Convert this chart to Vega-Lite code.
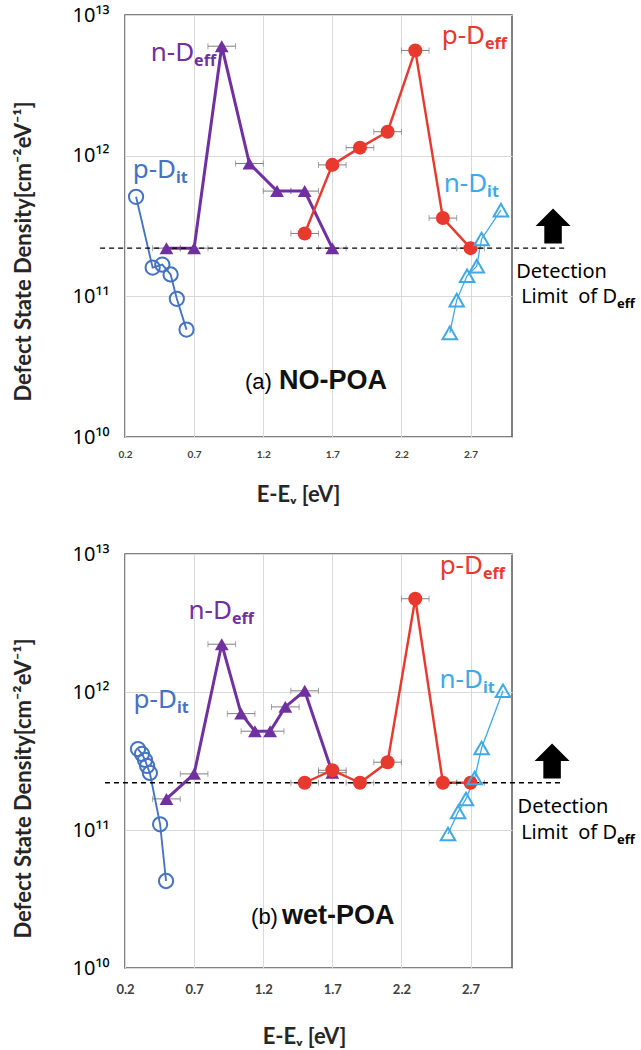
{
  "$schema": "https://vega.github.io/schema/vega-lite/v6.json",
  "background": "white",
  "padding": {"left": 11, "top": 4, "right": 0, "bottom": 0},
  "spacing": 37,
  "config": {
    "view": {"stroke": "#595959", "strokeWidth": 1.5},
    "axis": {"gridColor": "#d9d9d9", "gridWidth": 1}
  },
  "datasets": {
    "a": [
      {"series": "n-Deff", "kind": "eff", "E": 0.5, "D": 2.2e11, "lo": 0.4, "hi": 0.6},
      {"series": "n-Deff", "kind": "eff", "E": 0.7, "D": 2.2e11, "lo": 0.6, "hi": 0.8},
      {"series": "n-Deff", "kind": "eff", "E": 0.9, "D": 6.0e12, "lo": 0.8, "hi": 1.0},
      {"series": "n-Deff", "kind": "eff", "E": 1.1, "D": 8.8e11, "lo": 1.0, "hi": 1.2},
      {"series": "n-Deff", "kind": "eff", "E": 1.3, "D": 5.6e11, "lo": 1.2, "hi": 1.4},
      {"series": "n-Deff", "kind": "eff", "E": 1.5, "D": 5.6e11, "lo": 1.4, "hi": 1.6},
      {"series": "n-Deff", "kind": "eff", "E": 1.7, "D": 2.2e11, "lo": 1.6, "hi": 1.8},
      {"series": "p-Deff", "kind": "eff", "E": 1.5, "D": 2.8e11, "lo": 1.4, "hi": 1.6},
      {"series": "p-Deff", "kind": "eff", "E": 1.7, "D": 8.6e11, "lo": 1.6, "hi": 1.8},
      {"series": "p-Deff", "kind": "eff", "E": 1.9, "D": 1.14e12, "lo": 1.8, "hi": 2.0},
      {"series": "p-Deff", "kind": "eff", "E": 2.1, "D": 1.48e12, "lo": 2.0, "hi": 2.2},
      {"series": "p-Deff", "kind": "eff", "E": 2.3, "D": 5.6e12, "lo": 2.2, "hi": 2.4},
      {"series": "p-Deff", "kind": "eff", "E": 2.5, "D": 3.6e11, "lo": 2.4, "hi": 2.6},
      {"series": "p-Deff", "kind": "eff", "E": 2.7, "D": 2.2e11, "lo": 2.6, "hi": 2.8},
      {"series": "p-Dit", "kind": "it", "E": 0.28, "D": 5.1e11},
      {"series": "p-Dit", "kind": "it", "E": 0.40, "D": 1.6e11},
      {"series": "p-Dit", "kind": "it", "E": 0.47, "D": 1.68e11},
      {"series": "p-Dit", "kind": "it", "E": 0.53, "D": 1.43e11},
      {"series": "p-Dit", "kind": "it", "E": 0.575, "D": 9.6e10},
      {"series": "p-Dit", "kind": "it", "E": 0.645, "D": 5.8e10},
      {"series": "n-Dit", "kind": "it", "E": 2.55, "D": 5.5e10},
      {"series": "n-Dit", "kind": "it", "E": 2.60, "D": 9.4e10},
      {"series": "n-Dit", "kind": "it", "E": 2.675, "D": 1.4e11},
      {"series": "n-Dit", "kind": "it", "E": 2.745, "D": 1.64e11},
      {"series": "n-Dit", "kind": "it", "E": 2.78, "D": 2.56e11},
      {"series": "n-Dit", "kind": "it", "E": 2.92, "D": 4.1e11}
    ],
    "b": [
      {"series": "n-Deff", "kind": "eff", "E": 0.5, "D": 1.68e11, "lo": 0.4, "hi": 0.6},
      {"series": "n-Deff", "kind": "eff", "E": 0.7, "D": 2.55e11, "lo": 0.6, "hi": 0.8},
      {"series": "n-Deff", "kind": "eff", "E": 0.9, "D": 2.22e12, "lo": 0.8, "hi": 1.0},
      {"series": "n-Deff", "kind": "eff", "E": 1.04, "D": 6.97e11, "lo": 0.94, "hi": 1.14},
      {"series": "n-Deff", "kind": "eff", "E": 1.14, "D": 5.2e11, "lo": 1.04, "hi": 1.24},
      {"series": "n-Deff", "kind": "eff", "E": 1.25, "D": 5.2e11, "lo": 1.15, "hi": 1.35},
      {"series": "n-Deff", "kind": "eff", "E": 1.36, "D": 7.8e11, "lo": 1.26, "hi": 1.46},
      {"series": "n-Deff", "kind": "eff", "E": 1.5, "D": 1.02e12, "lo": 1.4, "hi": 1.6},
      {"series": "n-Deff", "kind": "eff", "E": 1.7, "D": 2.6e11, "lo": 1.6, "hi": 1.8},
      {"series": "p-Deff", "kind": "eff", "E": 1.5, "D": 2.2e11, "lo": 1.4, "hi": 1.6},
      {"series": "p-Deff", "kind": "eff", "E": 1.7, "D": 2.71e11, "lo": 1.6, "hi": 1.8},
      {"series": "p-Deff", "kind": "eff", "E": 1.9, "D": 2.2e11, "lo": 1.8, "hi": 2.0},
      {"series": "p-Deff", "kind": "eff", "E": 2.1, "D": 3.1e11, "lo": 2.0, "hi": 2.2},
      {"series": "p-Deff", "kind": "eff", "E": 2.3, "D": 4.74e12, "lo": 2.2, "hi": 2.4},
      {"series": "p-Deff", "kind": "eff", "E": 2.5, "D": 2.2e11, "lo": 2.4, "hi": 2.6},
      {"series": "p-Deff", "kind": "eff", "E": 2.7, "D": 2.2e11, "lo": 2.6, "hi": 2.8},
      {"series": "p-Dit", "kind": "it", "E": 0.294, "D": 3.86e11},
      {"series": "p-Dit", "kind": "it", "E": 0.323, "D": 3.56e11},
      {"series": "p-Dit", "kind": "it", "E": 0.345, "D": 3.22e11},
      {"series": "p-Dit", "kind": "it", "E": 0.36, "D": 2.91e11},
      {"series": "p-Dit", "kind": "it", "E": 0.38, "D": 2.59e11},
      {"series": "p-Dit", "kind": "it", "E": 0.454, "D": 1.1e11},
      {"series": "p-Dit", "kind": "it", "E": 0.497, "D": 4.27e10},
      {"series": "n-Dit", "kind": "it", "E": 2.537, "D": 9.35e10},
      {"series": "n-Dit", "kind": "it", "E": 2.61, "D": 1.35e11},
      {"series": "n-Dit", "kind": "it", "E": 2.667, "D": 1.68e11},
      {"series": "n-Dit", "kind": "it", "E": 2.73, "D": 2.38e11},
      {"series": "n-Dit", "kind": "it", "E": 2.78, "D": 3.93e11},
      {"series": "n-Dit", "kind": "it", "E": 2.935, "D": 1.02e12}
    ],
    "labels": [
      {"panel": "a", "series": "n-Deff", "E": 0.70, "D": 4.7e12, "main": "n-D", "sub": "eff"},
      {"panel": "a", "series": "p-Deff", "E": 2.805, "D": 6.2e12, "main": "p-D", "sub": "eff"},
      {"panel": "a", "series": "p-Dit", "E": 0.569, "D": 6.95e11, "main": "p-D", "sub": "it"},
      {"panel": "a", "series": "n-Dit", "E": 2.82, "D": 5.5e11, "main": "n-D", "sub": "it"},
      {"panel": "b", "series": "n-Deff", "E": 0.974, "D": 3.38e12, "main": "n-D", "sub": "eff"},
      {"panel": "b", "series": "p-Deff", "E": 2.79, "D": 7.2e12, "main": "p-D", "sub": "eff"},
      {"panel": "b", "series": "p-Dit", "E": 0.576, "D": 7.66e11, "main": "p-D", "sub": "it"},
      {"panel": "b", "series": "n-Dit", "E": 2.79, "D": 1.07e12, "main": "n-D", "sub": "it"}
    ],
    "notes": [
      {"panel": "a", "part": "det1", "E": 3.03, "D": 1.35e11, "text": "Detection"},
      {"panel": "a", "part": "det2", "E": 3.76, "D": 8.97e10, "text": "Limit\u00a0 of D"},
      {"panel": "a", "part": "det2sub", "E": 3.76, "D": 8.97e10, "text": "eff"},
      {"panel": "a", "part": "tag", "E": 1.068, "D": 2.2e10, "text": "(a)"},
      {"panel": "a", "part": "name", "E": 1.314, "D": 2.2e10, "text": "NO-POA"},
      {"panel": "b", "part": "det1", "E": 3.04, "D": 1.33e11, "text": "Detection"},
      {"panel": "b", "part": "det2", "E": 3.76, "D": 8.6e10, "text": "Limit\u00a0 of D"},
      {"panel": "b", "part": "det2sub", "E": 3.76, "D": 8.6e10, "text": "eff"},
      {"panel": "b", "part": "tag", "E": 1.112, "D": 2.08e10, "text": "(b)"},
      {"panel": "b", "part": "name", "E": 1.336, "D": 2.08e10, "text": "wet-POA"}
    ],
    "limit": [
      {"panel": "a", "E": 0.02, "E2": 3.38, "D": 2.2e11},
      {"panel": "b", "E": 0.055, "E2": 3.36, "D": 2.2e11}
    ],
    "arrow": [
      {"panel": "a", "E": 3.297, "D": 3.16e11},
      {"panel": "b", "E": 3.29, "D": 3.16e11}
    ]
  },
  "vconcat": [
    {
      "width": 387,
      "height": 422,
      "layer": [
        {
          "data": {"name": "a"},
          "transform": [{"filter": "datum.kind == 'eff'"}],
          "mark": {"type": "rule", "color": "#7f7f7f", "strokeWidth": 1},
          "encoding": {
            "x": {"field": "lo", "type": "quantitative", "scale": {"domain": [0.2, 3.0], "nice": false, "zero": false},
              "axis": {"values": [0.2, 0.7, 1.2, 1.7, 2.2, 2.7], "format": ".1f", "title": "E-Eᵥ [eV]", "grid": true, "ticks": false, "domain": false, "labelFlush": false,
                "labelFont": "Lato", "labelFontWeight": "bold", "labelFontSize": 10, "labelColor": "#404040", "labelPadding": 12,
                "titleFont": "Lato", "titleFontSize": 22, "titleFontWeight": "bold", "titleColor": "#262626", "titleX": 173, "titleY": 64, "titleAlign": "center", "titleBaseline": "alphabetic"}},
            "x2": {"field": "hi"},
            "y": {"field": "D", "type": "quantitative", "scale": {"type": "log", "domain": [1e10, 1e13], "nice": false},
              "axis": {"values": [1e10, 1e11, 1e12, 1e13], "labelExpr": "datum.value >= 1e13 ? '10¹³' : datum.value >= 1e12 ? '10¹²' : datum.value >= 1e11 ? '10¹¹' : '10¹⁰'",
                "title": "Defect State Density[cm⁻²eV⁻¹]", "grid": true, "ticks": false, "domain": false,
                "labelFont": "Noto Sans", "labelFontSize": 20, "labelColor": "#000000", "labelPadding": 16,
                "titleFont": "Lato", "titleFontSize": 22, "titleFontWeight": "bold", "titleColor": "#262626", "titleX": -102, "titleY": 236, "titleAngle": -90, "titleAlign": "center", "titleBaseline": "middle"}}
          }
        },
        {
          "data": {"name": "a"},
          "transform": [{"filter": "datum.kind == 'eff'"}],
          "mark": {"type": "tick", "orient": "vertical", "color": "#7f7f7f", "size": 6, "thickness": 1},
          "encoding": {
            "x": {"field": "lo", "type": "quantitative", "scale": {"domain": [0.2, 3.0], "nice": false, "zero": false}},
            "y": {"field": "D", "type": "quantitative", "scale": {"type": "log", "domain": [1e10, 1e13], "nice": false}}
          }
        },
        {
          "data": {"name": "a"},
          "transform": [{"filter": "datum.kind == 'eff'"}],
          "mark": {"type": "tick", "orient": "vertical", "color": "#7f7f7f", "size": 6, "thickness": 1},
          "encoding": {
            "x": {"field": "hi", "type": "quantitative", "scale": {"domain": [0.2, 3.0], "nice": false, "zero": false}},
            "y": {"field": "D", "type": "quantitative", "scale": {"type": "log", "domain": [1e10, 1e13], "nice": false}}
          }
        },
        {
          "data": {"name": "a"},
          "mark": {"type": "line"},
          "encoding": {
            "x": {"field": "E", "type": "quantitative", "scale": {"domain": [0.2, 3.0], "nice": false, "zero": false}},
            "y": {"field": "D", "type": "quantitative", "scale": {"type": "log", "domain": [1e10, 1e13], "nice": false}},
            "color": {"field": "series", "type": "nominal", "scale": {"domain": ["n-Deff", "p-Deff", "p-Dit", "n-Dit"], "range": ["#7030A0", "#E8392F", "#4472C4", "#3FA9E8"]}, "legend": null},
            "strokeWidth": {"field": "series", "type": "nominal", "scale": {"domain": ["n-Deff", "p-Deff", "p-Dit", "n-Dit"], "range": [3, 1.3, 1.4, 2]}, "legend": null}
          }
        },
        {
          "data": {"name": "limit"},
          "transform": [{"filter": "datum.panel == 'a'"}],
          "mark": {"type": "rule", "color": "#000000", "strokeWidth": 1.3, "strokeDash": [5, 4], "clip": false},
          "encoding": {
            "x": {"field": "E", "type": "quantitative", "scale": {"domain": [0.2, 3.0], "nice": false, "zero": false}},
            "x2": {"field": "E2"},
            "y": {"field": "D", "type": "quantitative", "scale": {"type": "log", "domain": [1e10, 1e13], "nice": false}}
          }
        },
        {
          "data": {"name": "a"},
          "transform": [{"filter": "datum.kind == 'eff'"}],
          "mark": {"type": "point", "filled": true, "opacity": 1},
          "encoding": {
            "x": {"field": "E", "type": "quantitative", "scale": {"domain": [0.2, 3.0], "nice": false, "zero": false}},
            "y": {"field": "D", "type": "quantitative", "scale": {"type": "log", "domain": [1e10, 1e13], "nice": false}},
            "color": {"field": "series", "type": "nominal", "legend": null},
            "shape": {"field": "series", "type": "nominal", "scale": {"domain": ["n-Deff", "p-Deff", "p-Dit", "n-Dit"], "range": ["triangle-up", "circle", "circle", "triangle-up"]}, "legend": null},
            "size": {"field": "series", "type": "nominal", "scale": {"domain": ["n-Deff", "p-Deff", "p-Dit", "n-Dit"], "range": [190, 210, 190, 160]}, "legend": null}
          }
        },
        {
          "data": {"name": "a"},
          "transform": [{"filter": "datum.kind == 'it'"}],
          "mark": {"type": "point", "filled": false, "strokeWidth": 2, "opacity": 1},
          "encoding": {
            "x": {"field": "E", "type": "quantitative", "scale": {"domain": [0.2, 3.0], "nice": false, "zero": false}},
            "y": {"field": "D", "type": "quantitative", "scale": {"type": "log", "domain": [1e10, 1e13], "nice": false}},
            "color": {"field": "series", "type": "nominal", "legend": null},
            "shape": {"field": "series", "type": "nominal", "legend": null},
            "size": {"field": "series", "type": "nominal", "legend": null}
          }
        },
        {
          "data": {"name": "arrow"},
          "transform": [{"filter": "datum.panel == 'a'"}],
          "mark": {"type": "point", "shape": "M0,-1L1,0L0.5,0L0.5,1L-0.5,1L-0.5,0L-1,0Z", "size": 1225, "filled": true, "color": "#000000", "opacity": 1, "clip": false},
          "encoding": {
            "x": {"field": "E", "type": "quantitative", "scale": {"domain": [0.2, 3.0], "nice": false, "zero": false}},
            "y": {"field": "D", "type": "quantitative", "scale": {"type": "log", "domain": [1e10, 1e13], "nice": false}}
          }
        },
        {
          "data": {"name": "labels"},
          "transform": [{"filter": "datum.panel == 'a'"}],
          "mark": {"type": "text", "align": "right", "baseline": "alphabetic", "font": "Noto Sans", "fontSize": 26},
          "encoding": {
            "x": {"field": "E", "type": "quantitative", "scale": {"domain": [0.2, 3.0], "nice": false, "zero": false}},
            "y": {"field": "D", "type": "quantitative", "scale": {"type": "log", "domain": [1e10, 1e13], "nice": false}},
            "text": {"field": "main"},
            "color": {"field": "series", "type": "nominal", "legend": null}
          }
        },
        {
          "data": {"name": "labels"},
          "transform": [{"filter": "datum.panel == 'a'"}],
          "mark": {"type": "text", "align": "left", "baseline": "alphabetic", "dy": 5, "font": "Noto Sans", "fontSize": 16, "fontWeight": "bold"},
          "encoding": {
            "x": {"field": "E", "type": "quantitative", "scale": {"domain": [0.2, 3.0], "nice": false, "zero": false}},
            "y": {"field": "D", "type": "quantitative", "scale": {"type": "log", "domain": [1e10, 1e13], "nice": false}},
            "text": {"field": "sub"},
            "color": {"field": "series", "type": "nominal", "legend": null}
          }
        },
        {
          "data": {"name": "notes"},
          "transform": [{"filter": "datum.panel == 'a' && datum.part == 'det1'"}],
          "mark": {"type": "text", "align": "left", "baseline": "alphabetic", "font": "Noto Sans", "fontSize": 20, "color": "#000000", "clip": false},
          "encoding": {
            "x": {"field": "E", "type": "quantitative", "scale": {"domain": [0.2, 3.0], "nice": false, "zero": false}},
            "y": {"field": "D", "type": "quantitative", "scale": {"type": "log", "domain": [1e10, 1e13], "nice": false}},
            "text": {"field": "text"}
          }
        },
        {
          "data": {"name": "notes"},
          "transform": [{"filter": "datum.panel == 'a' && datum.part == 'det2'"}],
          "mark": {"type": "text", "align": "right", "baseline": "alphabetic", "font": "Noto Sans", "fontSize": 20, "color": "#000000", "clip": false},
          "encoding": {
            "x": {"field": "E", "type": "quantitative", "scale": {"domain": [0.2, 3.0], "nice": false, "zero": false}},
            "y": {"field": "D", "type": "quantitative", "scale": {"type": "log", "domain": [1e10, 1e13], "nice": false}},
            "text": {"field": "text"}
          }
        },
        {
          "data": {"name": "notes"},
          "transform": [{"filter": "datum.panel == 'a' && datum.part == 'det2sub'"}],
          "mark": {"type": "text", "align": "left", "baseline": "alphabetic", "dy": 5, "font": "Noto Sans", "fontSize": 13, "fontWeight": "bold", "color": "#000000", "clip": false},
          "encoding": {
            "x": {"field": "E", "type": "quantitative", "scale": {"domain": [0.2, 3.0], "nice": false, "zero": false}},
            "y": {"field": "D", "type": "quantitative", "scale": {"type": "log", "domain": [1e10, 1e13], "nice": false}},
            "text": {"field": "text"}
          }
        },
        {
          "data": {"name": "notes"},
          "transform": [{"filter": "datum.panel == 'a' && datum.part == 'tag'"}],
          "mark": {"type": "text", "align": "left", "baseline": "alphabetic", "font": "Liberation Sans", "fontSize": 22, "color": "#000000"},
          "encoding": {
            "x": {"field": "E", "type": "quantitative", "scale": {"domain": [0.2, 3.0], "nice": false, "zero": false}},
            "y": {"field": "D", "type": "quantitative", "scale": {"type": "log", "domain": [1e10, 1e13], "nice": false}},
            "text": {"field": "text"}
          }
        },
        {
          "data": {"name": "notes"},
          "transform": [{"filter": "datum.panel == 'a' && datum.part == 'name'"}],
          "mark": {"type": "text", "align": "left", "baseline": "alphabetic", "font": "Liberation Sans", "fontSize": 27, "fontWeight": "bold", "color": "#111111"},
          "encoding": {
            "x": {"field": "E", "type": "quantitative", "scale": {"domain": [0.2, 3.0], "nice": false, "zero": false}},
            "y": {"field": "D", "type": "quantitative", "scale": {"type": "log", "domain": [1e10, 1e13], "nice": false}},
            "text": {"field": "text"}
          }
        }
      ]
    },
    {
      "width": 387,
      "height": 414,
      "layer": [
        {
          "data": {"name": "b"},
          "transform": [{"filter": "datum.kind == 'eff'"}],
          "mark": {"type": "rule", "color": "#7f7f7f", "strokeWidth": 1},
          "encoding": {
            "x": {"field": "lo", "type": "quantitative", "scale": {"domain": [0.2, 3.0], "nice": false, "zero": false},
              "axis": {"values": [0.2, 0.7, 1.2, 1.7, 2.2, 2.7], "format": ".1f", "title": "E-Eᵥ [eV]", "grid": true, "ticks": false, "domain": false, "labelFlush": false,
                "labelFont": "Lato", "labelFontWeight": "bold", "labelFontSize": 13, "labelColor": "#404040", "labelPadding": 15,
                "titleFont": "Lato", "titleFontSize": 22, "titleFontWeight": "bold", "titleColor": "#262626", "titleX": 179, "titleY": 75, "titleAlign": "center", "titleBaseline": "alphabetic"}},
            "x2": {"field": "hi"},
            "y": {"field": "D", "type": "quantitative", "scale": {"type": "log", "domain": [1e10, 1e13], "nice": false},
              "axis": {"values": [1e10, 1e11, 1e12, 1e13], "labelExpr": "datum.value >= 1e13 ? '10¹³' : datum.value >= 1e12 ? '10¹²' : datum.value >= 1e11 ? '10¹¹' : '10¹⁰'",
                "title": "Defect State Density[cm⁻²eV⁻¹]", "grid": true, "ticks": false, "domain": false,
                "labelFont": "Noto Sans", "labelFontSize": 20, "labelColor": "#000000", "labelPadding": 16,
                "titleFont": "Lato", "titleFontSize": 22, "titleFontWeight": "bold", "titleColor": "#262626", "titleX": -102, "titleY": 234, "titleAngle": -90, "titleAlign": "center", "titleBaseline": "middle"}}
          }
        },
        {
          "data": {"name": "b"},
          "transform": [{"filter": "datum.kind == 'eff'"}],
          "mark": {"type": "tick", "orient": "vertical", "color": "#7f7f7f", "size": 6, "thickness": 1},
          "encoding": {
            "x": {"field": "lo", "type": "quantitative", "scale": {"domain": [0.2, 3.0], "nice": false, "zero": false}},
            "y": {"field": "D", "type": "quantitative", "scale": {"type": "log", "domain": [1e10, 1e13], "nice": false}}
          }
        },
        {
          "data": {"name": "b"},
          "transform": [{"filter": "datum.kind == 'eff'"}],
          "mark": {"type": "tick", "orient": "vertical", "color": "#7f7f7f", "size": 6, "thickness": 1},
          "encoding": {
            "x": {"field": "hi", "type": "quantitative", "scale": {"domain": [0.2, 3.0], "nice": false, "zero": false}},
            "y": {"field": "D", "type": "quantitative", "scale": {"type": "log", "domain": [1e10, 1e13], "nice": false}}
          }
        },
        {
          "data": {"name": "b"},
          "mark": {"type": "line"},
          "encoding": {
            "x": {"field": "E", "type": "quantitative", "scale": {"domain": [0.2, 3.0], "nice": false, "zero": false}},
            "y": {"field": "D", "type": "quantitative", "scale": {"type": "log", "domain": [1e10, 1e13], "nice": false}},
            "color": {"field": "series", "type": "nominal", "scale": {"domain": ["n-Deff", "p-Deff", "p-Dit", "n-Dit"], "range": ["#7030A0", "#E8392F", "#4472C4", "#3FA9E8"]}, "legend": null},
            "strokeWidth": {"field": "series", "type": "nominal", "scale": {"domain": ["n-Deff", "p-Deff", "p-Dit", "n-Dit"], "range": [3, 1.3, 1.4, 2]}, "legend": null}
          }
        },
        {
          "data": {"name": "limit"},
          "transform": [{"filter": "datum.panel == 'b'"}],
          "mark": {"type": "rule", "color": "#000000", "strokeWidth": 1.3, "strokeDash": [5, 4], "clip": false},
          "encoding": {
            "x": {"field": "E", "type": "quantitative", "scale": {"domain": [0.2, 3.0], "nice": false, "zero": false}},
            "x2": {"field": "E2"},
            "y": {"field": "D", "type": "quantitative", "scale": {"type": "log", "domain": [1e10, 1e13], "nice": false}}
          }
        },
        {
          "data": {"name": "b"},
          "transform": [{"filter": "datum.kind == 'eff'"}],
          "mark": {"type": "point", "filled": true, "opacity": 1},
          "encoding": {
            "x": {"field": "E", "type": "quantitative", "scale": {"domain": [0.2, 3.0], "nice": false, "zero": false}},
            "y": {"field": "D", "type": "quantitative", "scale": {"type": "log", "domain": [1e10, 1e13], "nice": false}},
            "color": {"field": "series", "type": "nominal", "legend": null},
            "shape": {"field": "series", "type": "nominal", "scale": {"domain": ["n-Deff", "p-Deff", "p-Dit", "n-Dit"], "range": ["triangle-up", "circle", "circle", "triangle-up"]}, "legend": null},
            "size": {"field": "series", "type": "nominal", "scale": {"domain": ["n-Deff", "p-Deff", "p-Dit", "n-Dit"], "range": [190, 210, 190, 160]}, "legend": null}
          }
        },
        {
          "data": {"name": "b"},
          "transform": [{"filter": "datum.kind == 'it'"}],
          "mark": {"type": "point", "filled": false, "strokeWidth": 2, "opacity": 1},
          "encoding": {
            "x": {"field": "E", "type": "quantitative", "scale": {"domain": [0.2, 3.0], "nice": false, "zero": false}},
            "y": {"field": "D", "type": "quantitative", "scale": {"type": "log", "domain": [1e10, 1e13], "nice": false}},
            "color": {"field": "series", "type": "nominal", "legend": null},
            "shape": {"field": "series", "type": "nominal", "legend": null},
            "size": {"field": "series", "type": "nominal", "legend": null}
          }
        },
        {
          "data": {"name": "arrow"},
          "transform": [{"filter": "datum.panel == 'b'"}],
          "mark": {"type": "point", "shape": "M0,-1L1,0L0.5,0L0.5,1L-0.5,1L-0.5,0L-1,0Z", "size": 1225, "filled": true, "color": "#000000", "opacity": 1, "clip": false},
          "encoding": {
            "x": {"field": "E", "type": "quantitative", "scale": {"domain": [0.2, 3.0], "nice": false, "zero": false}},
            "y": {"field": "D", "type": "quantitative", "scale": {"type": "log", "domain": [1e10, 1e13], "nice": false}}
          }
        },
        {
          "data": {"name": "labels"},
          "transform": [{"filter": "datum.panel == 'b'"}],
          "mark": {"type": "text", "align": "right", "baseline": "alphabetic", "font": "Noto Sans", "fontSize": 26},
          "encoding": {
            "x": {"field": "E", "type": "quantitative", "scale": {"domain": [0.2, 3.0], "nice": false, "zero": false}},
            "y": {"field": "D", "type": "quantitative", "scale": {"type": "log", "domain": [1e10, 1e13], "nice": false}},
            "text": {"field": "main"},
            "color": {"field": "series", "type": "nominal", "legend": null}
          }
        },
        {
          "data": {"name": "labels"},
          "transform": [{"filter": "datum.panel == 'b'"}],
          "mark": {"type": "text", "align": "left", "baseline": "alphabetic", "dy": 5, "font": "Noto Sans", "fontSize": 16, "fontWeight": "bold"},
          "encoding": {
            "x": {"field": "E", "type": "quantitative", "scale": {"domain": [0.2, 3.0], "nice": false, "zero": false}},
            "y": {"field": "D", "type": "quantitative", "scale": {"type": "log", "domain": [1e10, 1e13], "nice": false}},
            "text": {"field": "sub"},
            "color": {"field": "series", "type": "nominal", "legend": null}
          }
        },
        {
          "data": {"name": "notes"},
          "transform": [{"filter": "datum.panel == 'b' && datum.part == 'det1'"}],
          "mark": {"type": "text", "align": "left", "baseline": "alphabetic", "font": "Noto Sans", "fontSize": 20, "color": "#000000", "clip": false},
          "encoding": {
            "x": {"field": "E", "type": "quantitative", "scale": {"domain": [0.2, 3.0], "nice": false, "zero": false}},
            "y": {"field": "D", "type": "quantitative", "scale": {"type": "log", "domain": [1e10, 1e13], "nice": false}},
            "text": {"field": "text"}
          }
        },
        {
          "data": {"name": "notes"},
          "transform": [{"filter": "datum.panel == 'b' && datum.part == 'det2'"}],
          "mark": {"type": "text", "align": "right", "baseline": "alphabetic", "font": "Noto Sans", "fontSize": 20, "color": "#000000", "clip": false},
          "encoding": {
            "x": {"field": "E", "type": "quantitative", "scale": {"domain": [0.2, 3.0], "nice": false, "zero": false}},
            "y": {"field": "D", "type": "quantitative", "scale": {"type": "log", "domain": [1e10, 1e13], "nice": false}},
            "text": {"field": "text"}
          }
        },
        {
          "data": {"name": "notes"},
          "transform": [{"filter": "datum.panel == 'b' && datum.part == 'det2sub'"}],
          "mark": {"type": "text", "align": "left", "baseline": "alphabetic", "dy": 5, "font": "Noto Sans", "fontSize": 13, "fontWeight": "bold", "color": "#000000", "clip": false},
          "encoding": {
            "x": {"field": "E", "type": "quantitative", "scale": {"domain": [0.2, 3.0], "nice": false, "zero": false}},
            "y": {"field": "D", "type": "quantitative", "scale": {"type": "log", "domain": [1e10, 1e13], "nice": false}},
            "text": {"field": "text"}
          }
        },
        {
          "data": {"name": "notes"},
          "transform": [{"filter": "datum.panel == 'b' && datum.part == 'tag'"}],
          "mark": {"type": "text", "align": "left", "baseline": "alphabetic", "font": "Liberation Sans", "fontSize": 22, "color": "#000000"},
          "encoding": {
            "x": {"field": "E", "type": "quantitative", "scale": {"domain": [0.2, 3.0], "nice": false, "zero": false}},
            "y": {"field": "D", "type": "quantitative", "scale": {"type": "log", "domain": [1e10, 1e13], "nice": false}},
            "text": {"field": "text"}
          }
        },
        {
          "data": {"name": "notes"},
          "transform": [{"filter": "datum.panel == 'b' && datum.part == 'name'"}],
          "mark": {"type": "text", "align": "left", "baseline": "alphabetic", "font": "Liberation Sans", "fontSize": 27, "fontWeight": "bold", "color": "#111111"},
          "encoding": {
            "x": {"field": "E", "type": "quantitative", "scale": {"domain": [0.2, 3.0], "nice": false, "zero": false}},
            "y": {"field": "D", "type": "quantitative", "scale": {"type": "log", "domain": [1e10, 1e13], "nice": false}},
            "text": {"field": "text"}
          }
        }
      ]
    }
  ]
}
